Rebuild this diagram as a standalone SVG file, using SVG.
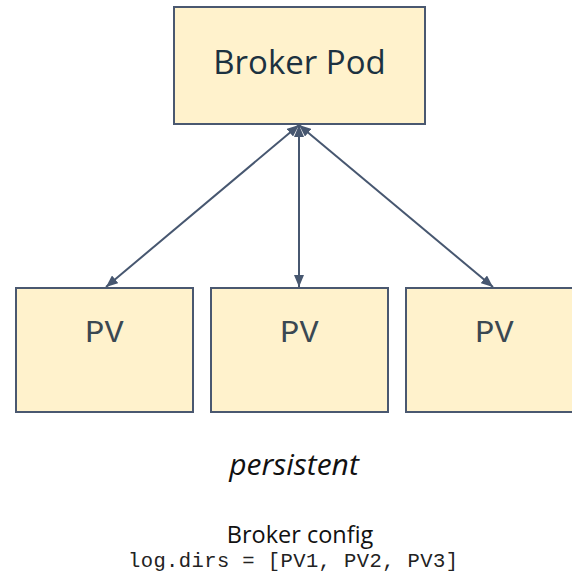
<svg xmlns="http://www.w3.org/2000/svg" width="572" height="574" viewBox="0 0 572 574">
<style>
.box{fill:#fff2cc;stroke:#4a5870;stroke-width:2}
.edge{stroke:#475770;stroke-width:2;fill:none}
</style>
<defs>
<marker id="ah" viewBox="0 0 12 10" refX="12" refY="5" markerWidth="6" markerHeight="5" orient="auto-start-reverse" markerUnits="strokeWidth">
<path d="M0,0 L12,5 L0,10 z" fill="#475770"/>
</marker>
</defs>
<g id="connectors">
<line class="edge" x1="299" y1="125" x2="106" y2="287" marker-start="url(#ah)" marker-end="url(#ah)"/>
<line class="edge" x1="299" y1="125" x2="299" y2="287" marker-start="url(#ah)" marker-end="url(#ah)"/>
<line class="edge" x1="299" y1="125" x2="493" y2="287" marker-start="url(#ah)" marker-end="url(#ah)"/>
</g>
<g id="broker">
<rect class="box" x="174" y="7" width="251" height="117"/>
<text x="299.5" y="74" font-family="'Open Sans','Liberation Sans',sans-serif" font-size="33" text-anchor="middle" fill="#1c3140">Broker Pod</text>
</g>
<g id="pv1">
<rect class="box" x="16" y="288" width="177" height="124"/>
<text x="104.5" y="342" font-family="'Liberation Mono','Courier New',monospace" font-size="32" text-anchor="middle" fill="#3a4852">PV</text>
</g>
<g id="pv2">
<rect class="box" x="211" y="288" width="177" height="124"/>
<text x="299.5" y="342" font-family="'Liberation Mono','Courier New',monospace" font-size="32" text-anchor="middle" fill="#3a4852">PV</text>
</g>
<g id="pv3">
<rect class="box" x="406" y="288" width="177" height="124"/>
<text x="494.5" y="342" font-family="'Liberation Mono','Courier New',monospace" font-size="32" text-anchor="middle" fill="#3a4852">PV</text>
</g>
<g id="labels">
<text x="294" y="475" font-family="'Open Sans','Liberation Sans',sans-serif" font-size="30" font-style="italic" text-anchor="middle" fill="#111">persistent</text>
<text x="300" y="543" font-family="'Open Sans','Liberation Sans',sans-serif" font-size="23.5" text-anchor="middle" fill="#111">Broker config</text>
<text x="293" y="567" font-family="'Liberation Mono','Courier New',monospace" font-size="20.5" text-anchor="middle" textLength="330" lengthAdjust="spacing" fill="#222">log.dirs = [PV1, PV2, PV3]</text>
</g>
</svg>
